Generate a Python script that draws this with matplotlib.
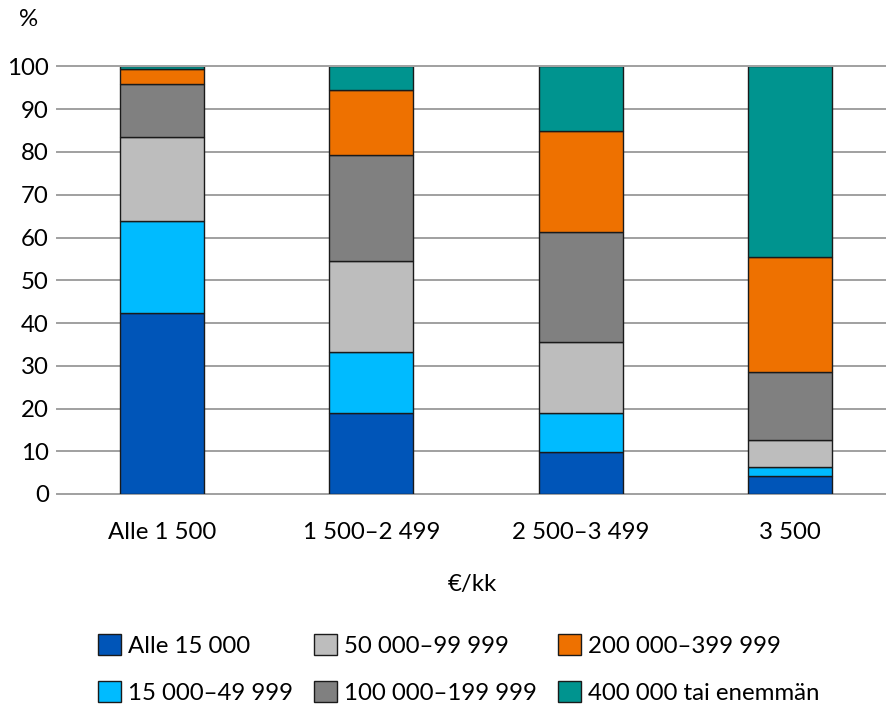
import matplotlib
matplotlib.use("Agg")
import matplotlib.pyplot as plt
import numpy as np

# Monthly income groups (x axis) and wealth brackets (stacked series), percent shares
income_groups = ["Alle 1 500", "1 500\u20132 499", "2 500\u20133 499", "3 500"]
brackets = [
    "Alle 15 000",
    "15 000\u201349 999",
    "50 000\u201399 999",
    "100 000\u2013199 999",
    "200 000\u2013399 999",
    "400 000 tai enemm\u00e4n",
]
shares = {
    "Alle 15 000":            [42.3, 18.9, 9.8, 4.2],
    "15 000\u201349 999":      [21.6, 14.2, 9.2, 2.2],
    "50 000\u201399 999":      [19.6, 21.4, 16.5, 6.2],
    "100 000\u2013199 999":    [12.3, 24.8, 25.7, 15.9],
    "200 000\u2013399 999":    [3.5, 15.2, 23.8, 26.9],
    "400 000 tai enemm\u00e4n": [0.7, 5.5, 15.0, 44.6],
}
colors = ["#0055B8", "#00BBFF", "#BDBDBD", "#808080", "#EE7100", "#00948F"]
y_ticks = list(range(0, 101, 10))

plt.rcParams["font.family"] = ["Lato", "DejaVu Sans"]
FS = 17.3

fig = plt.figure(figsize=(8.87, 7.08), dpi=100)
W, H = 887, 708
left, right, top, bottom = 57, 887, 66.5, 494
ax = fig.add_axes([left / W, 1 - bottom / H, (right - left) / W, (bottom - top) / H])

x = np.arange(len(income_groups))
base = np.zeros(len(income_groups))
for name, col in zip(brackets, colors):
    vals = np.array(shares[name])
    ax.bar(x, vals, bottom=base, width=0.4, color=col, edgecolor="#1a1a1a",
           linewidth=1.0, label=name, zorder=3)
    base += vals

ax.set_xlim(-0.5, 3.5 - 8 / 209.5)
ax.set_ylim(0, 100)
ax.set_yticks(y_ticks)
ax.set_xticks(x)
ax.set_xticklabels(income_groups)
ax.yaxis.grid(True, color="#A0A0A0", linewidth=1.4, zorder=0)
for gl in ax.get_ygridlines():
    gl.set_clip_on(False)
for s in ax.spines.values():
    s.set_visible(False)
ax.tick_params(axis="y", length=0, pad=6, labelsize=FS)
ax.tick_params(axis="x", length=0, pad=20, labelsize=FS)

fig.text(29 / W, 1 - 20 / H, "%", ha="center", va="center", fontsize=FS)
fig.text(472 / W, 1 - 585 / H, "\u20ac/kk", ha="center", va="center", fontsize=FS)

handles, labels = ax.get_legend_handles_labels()
fs_px = FS * 100 / 72
fig.legend(handles, labels, ncol=3, loc="center left",
           bbox_to_anchor=(98 / W, 1 - 669 / H),
           frameon=False, fontsize=FS,
           handlelength=23 / fs_px, handleheight=23 / fs_px,
           handletextpad=7 / fs_px, columnspacing=21 / fs_px,
           labelspacing=(48 - fs_px) / fs_px, borderpad=0, borderaxespad=0)

fig.savefig("out.png", dpi=100)
